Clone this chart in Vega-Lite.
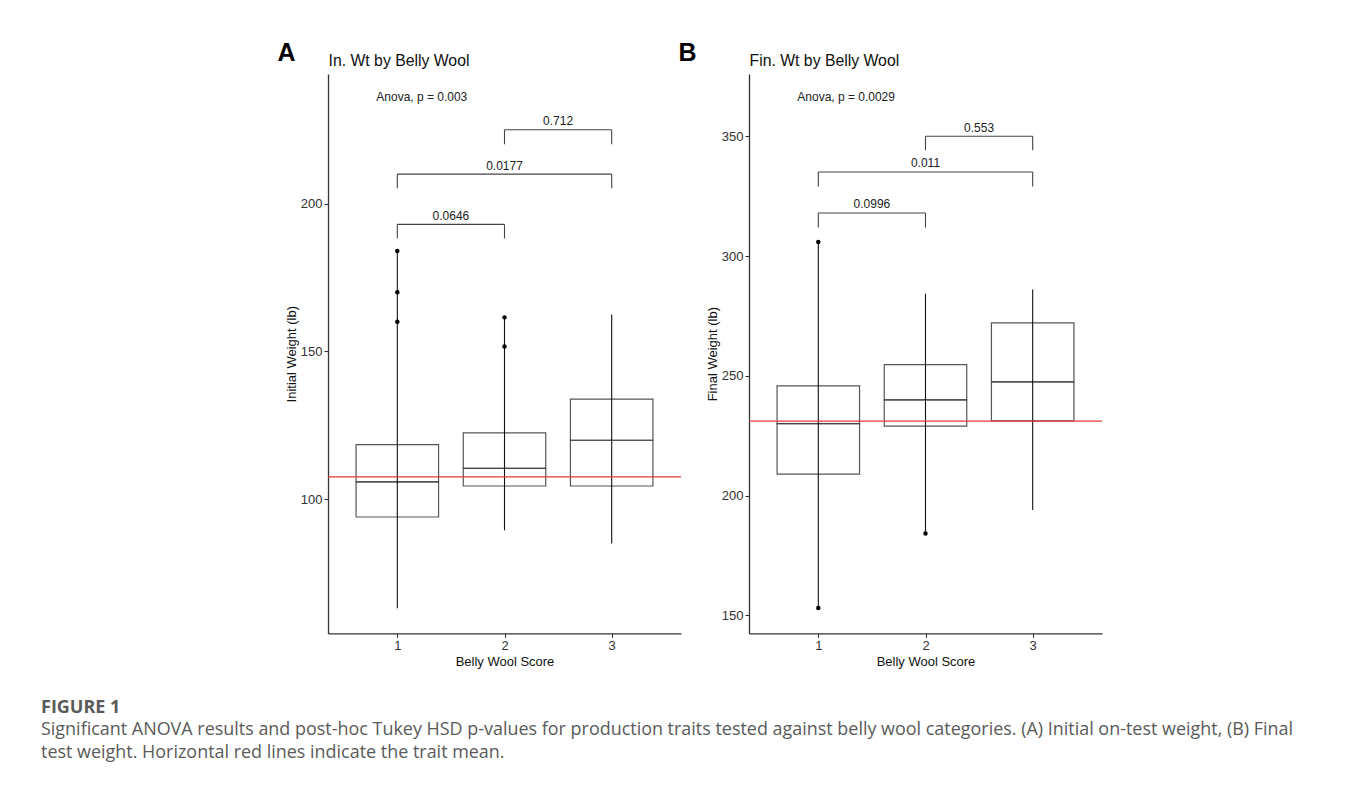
{
  "$schema": "https://vega.github.io/schema/vega-lite/v6.json",
  "autosize": {"type": "pad"},
  "padding": {"left": 41, "top": 40, "right": 10, "bottom": 5},
  "background": "white",
  "bounds": "flush",
  "spacing": 68,
  "title": {
    "text": "FIGURE 1",
    "subtitle": [
      "Significant ANOVA results and post-hoc Tukey HSD p-values for production traits tested against belly wool categories. (A) Initial on-test weight, (B) Final",
      "test weight. Horizontal red lines indicate the trait mean."
    ],
    "orient": "bottom",
    "anchor": "start",
    "frame": "bounds",
    "dx": -236,
    "offset": 31,
    "font": "Open Sans",
    "fontSize": 18,
    "fontWeight": "bold",
    "color": "#5a5a5a",
    "subtitleFont": "Open Sans",
    "subtitleFontSize": 17.95,
    "subtitleColor": "#5a5a5a",
    "subtitlePadding": 3.5,
    "subtitleLineHeight": 23
  },
  "datasets": {
    "boxA": [
      {"cat": 1, "lo": 63.0, "q1": 93.9, "med": 105.8, "q3": 118.4, "hi": 184.0},
      {"cat": 2, "lo": 89.4, "q1": 104.4, "med": 110.4, "q3": 122.4, "hi": 161.5},
      {"cat": 3, "lo": 84.9, "q1": 104.4, "med": 119.9, "q3": 133.8, "hi": 162.5}
    ],
    "outA": [
      {"cat": 1, "value": 184.0},
      {"cat": 1, "value": 170.0},
      {"cat": 1, "value": 160.0},
      {"cat": 2, "value": 161.5},
      {"cat": 2, "value": 151.6}
    ],
    "brA": [
      {"x1": 1, "x2": 2, "y": 193.0, "tip": 188.2, "label": "0.0646"},
      {"x1": 1, "x2": 3, "y": 210.0, "tip": 205.2, "label": "0.0177"},
      {"x1": 2, "x2": 3, "y": 225.0, "tip": 220.1, "label": "0.712"}
    ],
    "meanA": [{"mean": 107.5}],
    "anovaA": [{"x": 1, "y": 234.8, "label": "Anova, p = 0.003"}],
    "boxB": [
      {"cat": 1, "lo": 153.1, "q1": 209.0, "med": 230.1, "q3": 245.8, "hi": 305.9},
      {"cat": 2, "lo": 184.2, "q1": 229.0, "med": 240.0, "q3": 254.7, "hi": 284.3},
      {"cat": 3, "lo": 194.0, "q1": 231.2, "med": 247.5, "q3": 272.1, "hi": 286.0}
    ],
    "outB": [
      {"cat": 1, "value": 305.9},
      {"cat": 1, "value": 153.1},
      {"cat": 2, "value": 184.2}
    ],
    "brB": [
      {"x1": 1, "x2": 2, "y": 318.0, "tip": 311.9, "label": "0.0996"},
      {"x1": 1, "x2": 3, "y": 335.1, "tip": 329.0, "label": "0.011"},
      {"x1": 2, "x2": 3, "y": 350.0, "tip": 344.2, "label": "0.553"}
    ],
    "meanB": [{"mean": 231.1}],
    "anovaB": [{"x": 1, "y": 364.7, "label": "Anova, p = 0.0029"}]
  },
  "hconcat": [
    {
      "width": 353,
      "height": 559.4,
      "layer": [
        {
          "layer": [
            {
              "data": {"name": "boxA"},
              "mark": {"type": "bar", "size": 82.5, "fill": "white", "fillOpacity": 0, "stroke": "#444444", "strokeOpacity": 0.9, "strokeWidth": 1.2},
              "encoding": {
                "x": {"field": "cat", "type": "quantitative", "scale": {"domain": [0.4, 3.6], "nice": false, "zero": false}, "axis": {"orient": "bottom", "values": [1, 2, 3], "format": "d", "labelFlush": false, "title": "Belly Wool Score"}},
                "y": {"field": "q1", "type": "quantitative", "scale": {"domain": [54.5, 243.9], "nice": false, "zero": false}, "axis": {"orient": "left", "values": [100, 150, 200], "title": "Initial Weight (lb)"}},
                "y2": {"field": "med"}
              }
            },
            {
              "data": {"name": "boxA"},
              "mark": {"type": "bar", "size": 82.5, "fill": "white", "fillOpacity": 0, "stroke": "#444444", "strokeOpacity": 0.9, "strokeWidth": 1.2},
              "encoding": {
                "x": {"field": "cat", "type": "quantitative"},
                "y": {"field": "med", "type": "quantitative"},
                "y2": {"field": "q3"}
              }
            },
            {
              "data": {"name": "boxA"},
              "mark": {"type": "rule", "color": "#111111", "strokeWidth": 1.1},
              "encoding": {
                "x": {"field": "cat", "type": "quantitative"},
                "y": {"field": "lo", "type": "quantitative"},
                "y2": {"field": "hi"}
              }
            },
            {
              "data": {"name": "outA"},
              "mark": {"type": "circle", "color": "#000000", "opacity": 1, "size": 20},
              "encoding": {
                "x": {"field": "cat", "type": "quantitative"},
                "y": {"field": "value", "type": "quantitative"}
              }
            },
            {
              "data": {"name": "meanA"},
              "mark": {"type": "rule", "color": "#e23b3b", "strokeWidth": 1.1},
              "encoding": {
                "y": {"field": "mean", "type": "quantitative"}
              }
            },
            {
              "data": {"name": "brA"},
              "mark": {"type": "rule", "color": "#444444", "strokeWidth": 1.1},
              "encoding": {
                "x": {"field": "x1", "type": "quantitative"},
                "x2": {"field": "x2"},
                "y": {"field": "y", "type": "quantitative"}
              }
            },
            {
              "data": {"name": "brA"},
              "mark": {"type": "rule", "color": "#444444", "strokeWidth": 1.1},
              "encoding": {
                "x": {"field": "x1", "type": "quantitative"},
                "y": {"field": "y", "type": "quantitative"},
                "y2": {"field": "tip"}
              }
            },
            {
              "data": {"name": "brA"},
              "mark": {"type": "rule", "color": "#444444", "strokeWidth": 1.1},
              "encoding": {
                "x": {"field": "x2", "type": "quantitative"},
                "y": {"field": "y", "type": "quantitative"},
                "y2": {"field": "tip"}
              }
            },
            {
              "data": {"name": "brA"},
              "transform": [{"calculate": "(datum.x1 + datum.x2) / 2", "as": "mid"}],
              "mark": {"type": "text", "font": "Liberation Sans", "fontSize": 12, "color": "#222222", "baseline": "alphabetic", "dy": -4.5},
              "encoding": {
                "x": {"field": "mid", "type": "quantitative"},
                "y": {"field": "y", "type": "quantitative"},
                "text": {"field": "label"}
              }
            }
          ]
        },
        {
          "data": {"name": "anovaA"},
          "mark": {"type": "text", "font": "Liberation Sans", "fontSize": 12, "color": "#222222", "align": "left", "baseline": "alphabetic", "dx": -21},
          "encoding": {
            "x": {"field": "x", "type": "quantitative", "axis": {"orient": "top", "domain": false, "ticks": false, "labels": false, "grid": false, "title": "In. Wt by Belly Wool", "titleX": 0, "titleY": -8.3, "titleAlign": "left", "titleAnchor": null, "titleBaseline": "alphabetic", "titleFontSize": 15.8, "titleColor": "#111111", "titleFontWeight": "normal"}},
            "y": {"field": "y", "type": "quantitative", "axis": {"orient": "right", "domain": false, "ticks": false, "labels": false, "grid": false, "title": "A", "titleAngle": 0, "titleX": -404, "titleY": -13.3, "titleAlign": "left", "titleBaseline": "alphabetic", "titleFontSize": 25, "titleFontWeight": "bold", "titleColor": "#000000"}},
            "text": {"field": "label"}
          }
        }
      ],
      "resolve": {"axis": {"x": "independent", "y": "independent"}}
    },
    {
      "width": 353,
      "height": 559.4,
      "layer": [
        {
          "layer": [
            {
              "data": {"name": "boxB"},
              "mark": {"type": "bar", "size": 82.5, "fill": "white", "fillOpacity": 0, "stroke": "#444444", "strokeOpacity": 0.9, "strokeWidth": 1.2},
              "encoding": {
                "x": {"field": "cat", "type": "quantitative", "scale": {"domain": [0.4, 3.6], "nice": false, "zero": false}, "axis": {"orient": "bottom", "values": [1, 2, 3], "format": "d", "labelFlush": false, "title": "Belly Wool Score"}},
                "y": {"field": "q1", "type": "quantitative", "scale": {"domain": [142.5, 376.0], "nice": false, "zero": false}, "axis": {"orient": "left", "values": [150, 200, 250, 300, 350], "title": "Final Weight (lb)"}},
                "y2": {"field": "med"}
              }
            },
            {
              "data": {"name": "boxB"},
              "mark": {"type": "bar", "size": 82.5, "fill": "white", "fillOpacity": 0, "stroke": "#444444", "strokeOpacity": 0.9, "strokeWidth": 1.2},
              "encoding": {
                "x": {"field": "cat", "type": "quantitative"},
                "y": {"field": "med", "type": "quantitative"},
                "y2": {"field": "q3"}
              }
            },
            {
              "data": {"name": "boxB"},
              "mark": {"type": "rule", "color": "#111111", "strokeWidth": 1.1},
              "encoding": {
                "x": {"field": "cat", "type": "quantitative"},
                "y": {"field": "lo", "type": "quantitative"},
                "y2": {"field": "hi"}
              }
            },
            {
              "data": {"name": "outB"},
              "mark": {"type": "circle", "color": "#000000", "opacity": 1, "size": 20},
              "encoding": {
                "x": {"field": "cat", "type": "quantitative"},
                "y": {"field": "value", "type": "quantitative"}
              }
            },
            {
              "data": {"name": "meanB"},
              "mark": {"type": "rule", "color": "#e23b3b", "strokeWidth": 1.1},
              "encoding": {
                "y": {"field": "mean", "type": "quantitative"}
              }
            },
            {
              "data": {"name": "brB"},
              "mark": {"type": "rule", "color": "#444444", "strokeWidth": 1.1},
              "encoding": {
                "x": {"field": "x1", "type": "quantitative"},
                "x2": {"field": "x2"},
                "y": {"field": "y", "type": "quantitative"}
              }
            },
            {
              "data": {"name": "brB"},
              "mark": {"type": "rule", "color": "#444444", "strokeWidth": 1.1},
              "encoding": {
                "x": {"field": "x1", "type": "quantitative"},
                "y": {"field": "y", "type": "quantitative"},
                "y2": {"field": "tip"}
              }
            },
            {
              "data": {"name": "brB"},
              "mark": {"type": "rule", "color": "#444444", "strokeWidth": 1.1},
              "encoding": {
                "x": {"field": "x2", "type": "quantitative"},
                "y": {"field": "y", "type": "quantitative"},
                "y2": {"field": "tip"}
              }
            },
            {
              "data": {"name": "brB"},
              "transform": [{"calculate": "(datum.x1 + datum.x2) / 2", "as": "mid"}],
              "mark": {"type": "text", "font": "Liberation Sans", "fontSize": 12, "color": "#222222", "baseline": "alphabetic", "dy": -4.5},
              "encoding": {
                "x": {"field": "mid", "type": "quantitative"},
                "y": {"field": "y", "type": "quantitative"},
                "text": {"field": "label"}
              }
            }
          ]
        },
        {
          "data": {"name": "anovaB"},
          "mark": {"type": "text", "font": "Liberation Sans", "fontSize": 12, "color": "#222222", "align": "left", "baseline": "alphabetic", "dx": -21},
          "encoding": {
            "x": {"field": "x", "type": "quantitative", "axis": {"orient": "top", "domain": false, "ticks": false, "labels": false, "grid": false, "title": "Fin. Wt by Belly Wool", "titleX": 0, "titleY": -8.3, "titleAlign": "left", "titleAnchor": null, "titleBaseline": "alphabetic", "titleFontSize": 15.8, "titleColor": "#111111", "titleFontWeight": "normal"}},
            "y": {"field": "y", "type": "quantitative", "axis": {"orient": "right", "domain": false, "ticks": false, "labels": false, "grid": false, "title": "B", "titleAngle": 0, "titleX": -424, "titleY": -13.3, "titleAlign": "left", "titleBaseline": "alphabetic", "titleFontSize": 25, "titleFontWeight": "bold", "titleColor": "#000000"}},
            "text": {"field": "label"}
          }
        }
      ],
      "resolve": {"axis": {"x": "independent", "y": "independent"}}
    }
  ],
  "config": {
    "view": {"stroke": null},
    "axis": {
      "grid": false,
      "domainColor": "#333333",
      "domainWidth": 1.3,
      "tickColor": "#333333",
      "tickWidth": 1.1,
      "tickSize": 4,
      "labelFont": "Liberation Sans",
      "labelFontSize": 13,
      "labelColor": "#333333",
      "labelPadding": 2,
      "titleFont": "Liberation Sans",
      "titleFontSize": 13,
      "titleFontWeight": "normal",
      "titleColor": "#111111"
    },
    "axisX": {"titlePadding": 3},
    "axisY": {"titlePadding": 2}
  }
}
